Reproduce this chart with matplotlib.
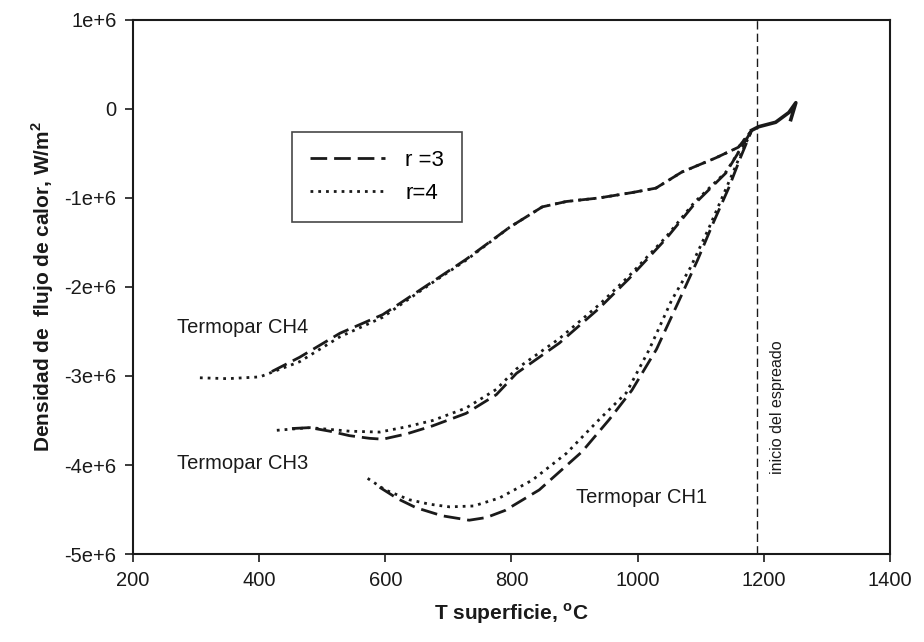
import numpy as np
import matplotlib
matplotlib.use("Agg")
import matplotlib.pyplot as plt

plt.rcParams["font.family"] = ["Liberation Sans", "DejaVu Sans"]
plt.rcParams["mathtext.fontset"] = "custom"
plt.rcParams["mathtext.rm"] = "Liberation Sans"
plt.rcParams["mathtext.bf"] = "Liberation Sans:bold"

# heat flux in units of 1e6 W/m2, surface temperature in C
ch4_r4_t = [306, 350, 401, 464, 528, 596, 622, 675, 728, 797, 849, 887, 939, 991, 1029, 1070, 1124, 1160, 1181]
ch4_r4_q = [-3.02, -3.03, -3.01, -2.84, -2.56, -2.34, -2.21, -1.95, -1.70, -1.33, -1.10, -1.04, -1.00, -0.94,
            -0.89, -0.71, -0.55, -0.43, -0.24]
ch4_r3_t = [420, 464, 528, 596, 622, 675, 728, 797, 849, 887, 939, 991, 1029, 1070, 1124, 1160, 1181]
ch4_r3_q = [-2.95, -2.79, -2.52, -2.31, -2.19, -1.94, -1.69, -1.33, -1.10, -1.04, -1.00, -0.94, -0.89, -0.71,
            -0.55, -0.43, -0.24]

ch3_r4_t = [428, 480, 512, 543, 591, 634, 675, 728, 776, 808, 876, 939, 986, 1045, 1090, 1140, 1165, 1181]
ch3_r4_q = [-3.61, -3.58, -3.60, -3.62, -3.63, -3.57, -3.50, -3.36, -3.15, -2.92, -2.58, -2.20, -1.88, -1.44,
            -1.05, -0.71, -0.43, -0.24]
ch3_r3_t = [452, 480, 512, 543, 575, 596, 634, 675, 728, 776, 808, 876, 939, 986, 1045, 1090, 1140, 1165, 1181]
ch3_r3_q = [-3.59, -3.58, -3.62, -3.67, -3.70, -3.71, -3.65, -3.56, -3.42, -3.21, -2.97, -2.63, -2.24, -1.91,
            -1.46, -1.07, -0.72, -0.43, -0.24]

ch1_r4_t = [572, 600, 638, 670, 702, 740, 781, 833, 887, 939, 982, 1018, 1054, 1084, 1113, 1140, 1160, 1181]
ch1_r4_q = [-4.15, -4.28, -4.39, -4.44, -4.47, -4.46, -4.37, -4.17, -3.87, -3.49, -3.19, -2.71, -2.15, -1.78,
            -1.34, -0.90, -0.57, -0.24]
ch1_r3_t = [591, 620, 649, 690, 733, 760, 790, 844, 912, 955, 991, 1030, 1064, 1095, 1120, 1145, 1163, 1181]
ch1_r3_q = [-4.25, -4.38, -4.48, -4.57, -4.62, -4.59, -4.51, -4.28, -3.85, -3.49, -3.16, -2.70, -2.18, -1.70,
            -1.28, -0.88, -0.55, -0.24]

# shared end of all curves, after spray start
tail_t = [1181, 1192, 1219, 1240, 1251, 1243]
tail_q = [-0.24, -0.20, -0.15, -0.04, 0.07, -0.12]

spray_t = 1190
yticks = [-5, -4, -3, -2, -1, 0, 1]
ytick_labels = ["-5e+6", "-4e+6", "-3e+6", "-2e+6", "-1e+6", "0", "1e+6"]
xticks = [200, 400, 600, 800, 1000, 1200, 1400]

dash = (0, (6, 2.5))
dot = (0, (1, 1.8))
ink = "#1a1a1a"

fig = plt.figure(figsize=(9.24, 6.42), dpi=100)
ax = fig.add_axes([0.144, 0.137, 0.819, 0.832])

def draw(t, q, ls, label=None):
    ax.plot(t, np.array(q) * 1e6, color=ink, lw=2.0, ls=ls, label=label)

draw(ch4_r3_t, ch4_r3_q, dash, "r =3")
draw(ch4_r4_t, ch4_r4_q, dot, "r=4")
draw(ch3_r3_t, ch3_r3_q, dash)
draw(ch3_r4_t, ch3_r4_q, dot)
draw(ch1_r3_t, ch1_r3_q, dash)
draw(ch1_r4_t, ch1_r4_q, dot)
ax.plot(tail_t, np.array(tail_q) * 1e6, color=ink, lw=2.6)

ax.axvline(spray_t, color=ink, lw=1.0, ls=(0, (6, 3)))
ax.text(1222, -3.35e6, "inicio del espreado", rotation=90, ha="center", va="center",
        fontsize=11.5, color=ink)

ax.text(270, -2.46e6, "Termopar CH4", fontsize=14.5, va="center", color=ink)
ax.text(270, -3.98e6, "Termopar CH3", fontsize=14.5, va="center", color=ink)
ax.text(902, -4.36e6, "Termopar CH1", fontsize=14.5, va="center", color=ink)

ax.set_xlim(200, 1400)
ax.set_ylim(-5e6, 1e6)
ax.set_xticks(xticks)
ax.set_yticks(np.array(yticks) * 1e6)
ax.set_yticklabels(ytick_labels)
ax.tick_params(direction="out", length=6, width=1.2, labelsize=14.5, colors=ink, pad=6)
for s in ax.spines.values():
    s.set_linewidth(1.5)
    s.set_color(ink)

ax.set_xlabel(r"T superficie, $^{\mathbf{o}}$C", fontsize=15, fontweight="bold", color=ink, labelpad=8)
ax.set_ylabel(r"Densidad de  flujo de calor, W/m$^{\mathbf{2}}$", fontsize=15, fontweight="bold",
              color=ink, labelpad=6)

leg = ax.legend(loc="upper left", bbox_to_anchor=(0.21, 0.79), fontsize=16, frameon=True,
                fancybox=False, edgecolor=ink, handlelength=3.4, handletextpad=0.9,
                borderpad=0.8, labelspacing=0.55, borderaxespad=0)
leg.get_frame().set_linewidth(1.2)

fig.savefig("out.png", dpi=100)
